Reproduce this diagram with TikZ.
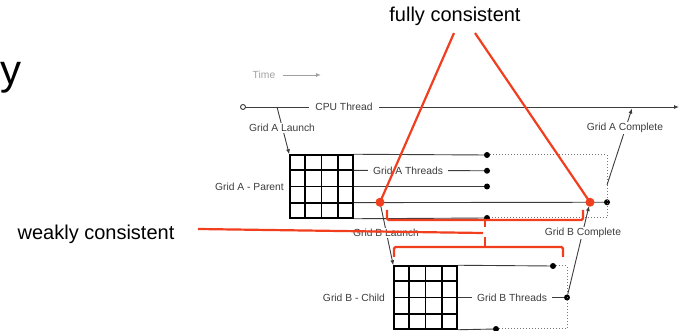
\documentclass[tikz,border=0pt]{standalone}
\usepackage{fontspec}
\setmainfont{Liberation Sans}
\usetikzlibrary{arrows.meta,calc}
\definecolor{cred}{RGB}{240,62,30}
\definecolor{lgray}{RGB}{60,60,60}
\definecolor{tgray}{RGB}{160,160,160}
\begin{document}
\begin{tikzpicture}[x=1pt,y=-1pt,
 lbl/.style={font=\fontsize{10.3}{12}\selectfont, text=lgray, inner sep=0pt},
 gap/.style={lbl, fill=white, inner xsep=5pt, inner ysep=1.5pt},
 thr/.style={draw=lgray, line width=0.9pt},
 dotl/.style={draw=lgray!70, line width=1pt, dash pattern=on 1pt off 2pt},
 bdot/.style={circle, fill=black, inner sep=0pt, minimum size=6pt},
 rdot/.style={circle, fill=cred, inner sep=0pt, minimum size=9pt},
 gridbox/.style={draw=black, line width=1.5pt, minimum size=63pt, inner sep=0pt},
 gridln/.style={draw=black, line width=1.9pt},
 arr/.style={thr, -{Latex[length=5pt,width=4pt]}},
 redl/.style={draw=cred, line width=2.2pt},
 big/.style={font=\fontsize{20}{24}\selectfont, inner sep=0pt}]
\useasboundingbox (0,0) rectangle (686,331);

% big texts
\node[font=\fontsize{42}{48}\selectfont, anchor=base west, inner sep=0pt] (ylet) at (0,85) {y};
\node[big] (fc) at (455,16) {fully consistent};
\node[big] (wc) at (96,234) {weakly consistent};

% time
\node[lbl, text=tgray] (time) at (264,75) {Time};
\coordinate (t1) at (283,75);
\coordinate (t2) at (321,75);
\draw[draw=tgray, line width=0.9pt, -{Latex[length=5pt,width=4pt]}] (t1) -- (t2);

% CPU thread
\node[circle, draw=lgray, line width=0.9pt, fill=white, inner sep=0pt, minimum size=5pt] (cpu0) at (243,107) {};
\coordinate (cpuEnd) at (679,107);
\draw[arr] (cpu0) -- (cpuEnd);
\node[gap, inner xsep=6pt] (cpuL) at (344,107) {CPU Thread};

% grids
\node[gridbox] (gA) at (321.5,186.5) {};
\node[gridbox] (gB) at (425.5,297.5) {};
\foreach \g in {gA,gB}{
  \foreach \i in {0.25,0.5,0.75}{
    \draw[gridln] ($(\g.north west)!\i!(\g.north east)$) -- ($(\g.south west)!\i!(\g.south east)$);
    \draw[gridln] ($(\g.north west)!\i!(\g.south west)$) -- ($(\g.north east)!\i!(\g.south east)$);
  }
}
\node[lbl, anchor=east] (pA) at (284,187) {Grid A - Parent};
\node[lbl, anchor=east] (pB) at (385,297.5) {Grid B - Child};

% grid A threads
\coordinate (a0) at (gA.north east);
\coordinate (a1) at ($(gA.north east)!0.25!(gA.south east)$);
\coordinate (a2) at ($(gA.north east)!0.5!(gA.south east)$);
\coordinate (a3) at ($(gA.north east)!0.75!(gA.south east)$);
\coordinate (a4) at (gA.south east);
\node[bdot] (dA0) at (487,155) {};
\node[bdot] (dA1) at (487,170.75) {};
\node[bdot] (dA2) at (487,186.5) {};
\node[bdot] (dA4) at (487,218) {};
\node[bdot] (dAe) at (607,202.25) {};
\draw[thr] (a0) -- (dA0);
\draw[thr] (a1) -- (dA1);
\draw[thr] (a2) -- (dA2);
\draw[thr] (a3) -- (dAe);
\draw[thr] (a4) -- (dA4);
\draw[dotl] (dA0) -- (dA0 -| dAe) -- (dA4 -| dAe) -- (dA4);
\node[gap] (tA) at (408,170.75) {Grid A Threads};

% grid B threads
\coordinate (b0) at (gB.north east);
\coordinate (b2) at ($(gB.north east)!0.5!(gB.south east)$);
\coordinate (b4) at (gB.south east);
\node[bdot] (dB0) at (553,266) {};
\node[bdot] (dBm) at (567,297.5) {};
\node[bdot] (dB4) at (496,329) {};
\draw[thr] (b0) -- (dB0);
\draw[thr] (b2) -- (dBm);
\draw[thr] (b4) -- (dB4);
\draw[dotl] (dB0) -- (dB0 -| dBm) -- (dB4 -| dBm) -- (dB4);
\node[gap] (tB) at (512,297.5) {Grid B Threads};

% launches and completions
\coordinate (launchA) at (277,107);
\draw[arr] (launchA) -- (gA.north west);
\node[gap] (lA) at (282,128) {Grid A Launch};

\coordinate (compA0) at (607,185);
\coordinate (compA1) at (632,108.5);
\draw[arr] (compA0) -- (compA1);
\node[gap] (cA) at (625,128) {Grid A Complete};

\coordinate (launchB) at (380,202.25);
\draw[arr] (launchB) -- (gB.north west);
\node[gap] (lB) at (386,233) {Grid B Launch};

\coordinate (compB1) at (589,206);
\draw[arr] (dBm) -- (compB1);
\node[gap] (cB) at (583,233) {Grid B Complete};

% red annotations
\node[rdot] (rL) at (launchB) {};
\node[rdot] (rR) at (590,202.25) {};
\coordinate (fcL) at (454,33);
\coordinate (fcR) at (475,33);
\draw[redl] (fcL) -- (rL.center);
\draw[redl] (fcR) -- (rR.center);
\coordinate (wcE) at (198,229);
\coordinate (brM) at (483,233);
\draw[redl] (wcE) -- (brM);
\draw[redl, rounded corners=1.5pt] (387,210) -- (387,220) -- (583,220) -- (583,210);
\draw[redl] (485,220) -- (485,227);
\draw[redl] (485,237) -- (485,247);
\draw[redl, rounded corners=1.5pt] (394,257) -- (394,247) -- (563,247) -- (563,257);
\end{tikzpicture}
\end{document}
